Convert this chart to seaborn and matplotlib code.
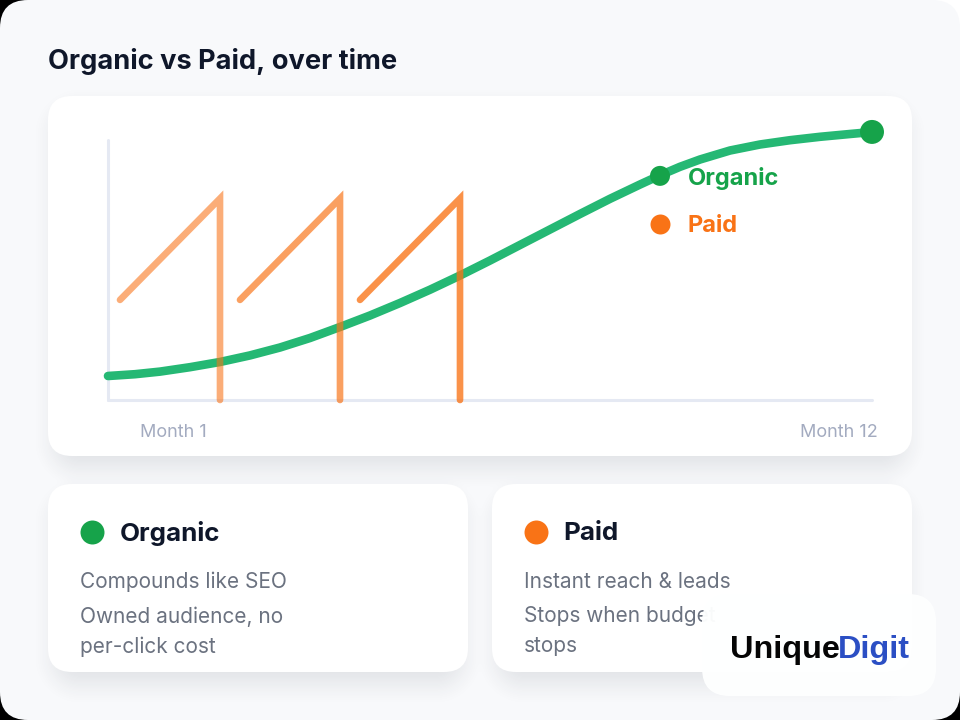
import matplotlib
matplotlib.use("Agg")
import matplotlib.pyplot as plt
from matplotlib.colors import to_rgb
from matplotlib.patches import FancyBboxPatch, Rectangle
import numpy as np
import pandas as pd
import seaborn as sns

organic_x = [108, 135, 160, 190, 220, 250, 280, 310, 340, 370, 400, 430, 460, 490, 520, 550, 580, 610, 640, 660, 680, 700, 730, 760, 790, 820, 850, 872]
organic_y = [9.23, 9.92, 10.92, 12.62, 14.62, 17.15, 20.19, 23.85, 28.08, 32.5, 37.31, 42.42, 47.88, 53.65, 59.62, 65.58, 71.54, 77.38, 82.88, 86.42, 89.69, 92.5, 95.96, 98.27, 99.92, 101.23, 102.31, 103.08]
paid_x = [[120, 220, 220], [240, 340, 340], [360, 460, 460]]
paid_y = [[38.5, 77.5, 0], [38.5, 77.5, 0], [38.5, 77.5, 0]]
paid_alpha = [0.58, 0.68, 0.78]
marker_x = [660, 872]
marker_y = [86.2, 103.1]
marker_size = [207, 298]
legend_x = [660]
legend_y = [67.7]
legend_labels = ["Organic", "Paid"]
label_y = [86.2, 67.7]
month_ticks = [173.5, 838.5]
month_labels = ["Month 1", "Month 12"]
title = "Organic vs Paid, over time"

GREEN, GREEN_LINE, ORANGE = "#16a34a", "#25b874", "#f97316"
DARK, BODY, MUTED, AXIS = "#0f172a", "#6b7280", "#a3abc0", "#e5e9f3"
TEXT = "Inter"

sns.set_theme(style="white")
plt.rcParams["font.family"] = [TEXT, "DejaVu Sans"]

fig = plt.figure(figsize=(9.6, 7.2), dpi=100, facecolor="black")
bg = fig.add_axes([0, 0, 1, 1])
bg.set_xlim(0, 960)
bg.set_ylim(720, 0)
bg.axis("off")


def rrect(x0, y0, x1, y1, r, color, alpha=1.0, z=1):
    bg.add_patch(FancyBboxPatch((x0, y0), x1 - x0, y1 - y0,
                                boxstyle=f"round,pad=0,rounding_size={r}",
                                fc=color, ec="none", alpha=alpha, zorder=z))


yy, xx = np.mgrid[0:720, 0:960] + 0.5
keep = np.ones_like(xx)
for x0, y0, x1, y1 in [(48, 96, 912, 456), (48, 484, 468, 672), (492, 484, 912, 672)]:
    bx0, by0, bx1, by1 = x0 + 8, y0 + 14, x1 - 8, y1 + 10
    r, w = 24, 26
    qx = np.abs(xx - (bx0 + bx1) / 2) - ((bx1 - bx0) / 2 - r)
    qy = np.abs(yy - (by0 + by1) / 2) - ((by1 - by0) / 2 - r)
    sdf = np.hypot(np.maximum(qx, 0), np.maximum(qy, 0)) + np.minimum(np.maximum(qx, qy), 0) - r
    t = np.clip(1 - (sdf + w) / (2 * w), 0, 1)
    keep *= 1 - 0.12 * t * t * (3 - 2 * t)
shadow = np.zeros((720, 960, 4))
shadow[..., :3] = to_rgb("#1e293b")
shadow[..., 3] = 1 - keep

bg.add_patch(Rectangle((930, 0), 30, 30, fc="white", ec="none", zorder=0))
rrect(0, 0, 960, 720, 28, "#f8f9fb", 1, 1)
im = bg.imshow(shadow, extent=(0, 960, 720, 0), zorder=1.5, interpolation="nearest", aspect="auto")
im.set_clip_path(FancyBboxPatch((0, 0), 960, 720, boxstyle="round,pad=0,rounding_size=28", transform=bg.transData))
bg.set_xlim(0, 960)
bg.set_ylim(720, 0)
for box in [(48, 96, 912, 456), (48, 484, 468, 672), (492, 484, 912, 672)]:
    rrect(*box, 24, "white", 1, 2)

bg.text(48, 58.5, title, fontsize=19.6, fontweight="bold", color=DARK, va="center_baseline", ha="left", zorder=5)

# Lower cards
bodies = [(80, GREEN, "Organic", ["Compounds like SEO", "Owned audience, no", "per-click cost"]),
          (524, ORANGE, "Paid", ["Instant reach & leads", "Stops when budget", "stops"])]
for x, col, head, lines in bodies:
    bg.scatter([x + 12], [532], s=298, color=col, linewidths=0, zorder=5)
    bg.text(x + 39.5, 531.5, head, fontsize=18.7, fontweight="bold", color=DARK, va="center_baseline", zorder=5)
    for y, line in zip([579.5, 614.5, 644.5], lines):
        bg.text(x, y, line, fontsize=15, color=BODY, va="center_baseline", zorder=5)

# Logo
rrect(702, 594, 936, 696, 28, "#feffff", 0.97, 6.5)
bg.text(730, 646.5, "Unique", fontsize=23.3, fontweight="bold", family="Liberation Sans",
        color="#050505", va="center_baseline", zorder=7)
bg.text(838, 646.5, "Digit", fontsize=23.3, fontweight="bold", family="Liberation Sans",
        color="#2b4fc4", va="center_baseline", zorder=7)

# Chart
ax = fig.add_axes([108 / 960, 1 - 400 / 720, 764 / 960, 260 / 720], zorder=3)
ax.patch.set_alpha(0)

organic = pd.DataFrame({"x": organic_x, "y": organic_y})
sns.lineplot(data=organic, x="x", y="y", ax=ax, color=GREEN_LINE, linewidth=6.2, sort=False,
             estimator=None, solid_capstyle="round", clip_on=False, zorder=3)
for xs, ys, a in zip(paid_x, paid_y, paid_alpha):
    tooth = pd.DataFrame({"x": xs, "y": ys})
    sns.lineplot(data=tooth, x="x", y="y", ax=ax, color=ORANGE, linewidth=4.8, alpha=a, sort=False,
                 estimator=None, solid_capstyle="round", solid_joinstyle="miter", clip_on=False, zorder=4)

sns.scatterplot(x=marker_x, y=marker_y, size=marker_size, sizes=(207, 298), legend=False,
                color=GREEN, linewidth=0, ax=ax, clip_on=False, zorder=5)
sns.scatterplot(x=legend_x, y=legend_y, color=ORANGE, s=207, legend=False,
                linewidth=0, ax=ax, clip_on=False, zorder=5)
for y, lab, col in zip(label_y, legend_labels, [GREEN, ORANGE]):
    ax.annotate(lab, (660, y), xytext=(20, 0), textcoords="offset points", fontsize=17, fontweight="bold",
                color=col, va="center_baseline", zorder=6)

ax.set_xlim(108, 872)
ax.set_ylim(0, 100)
ax.set_xlabel("")
ax.set_ylabel("")
ax.set_yticks([])
ax.set_xticks(month_ticks, month_labels, color=MUTED, fontsize=13)
ax.tick_params(axis="x", length=0, pad=17)
for s in ("top", "right"):
    ax.spines[s].set_visible(False)
for s in ("left", "bottom"):
    ax.spines[s].set_color(AXIS)
    ax.spines[s].set_linewidth(2.2)
    ax.spines[s].set_capstyle("round")

fig.savefig("out.png", dpi=100, facecolor=fig.get_facecolor())
